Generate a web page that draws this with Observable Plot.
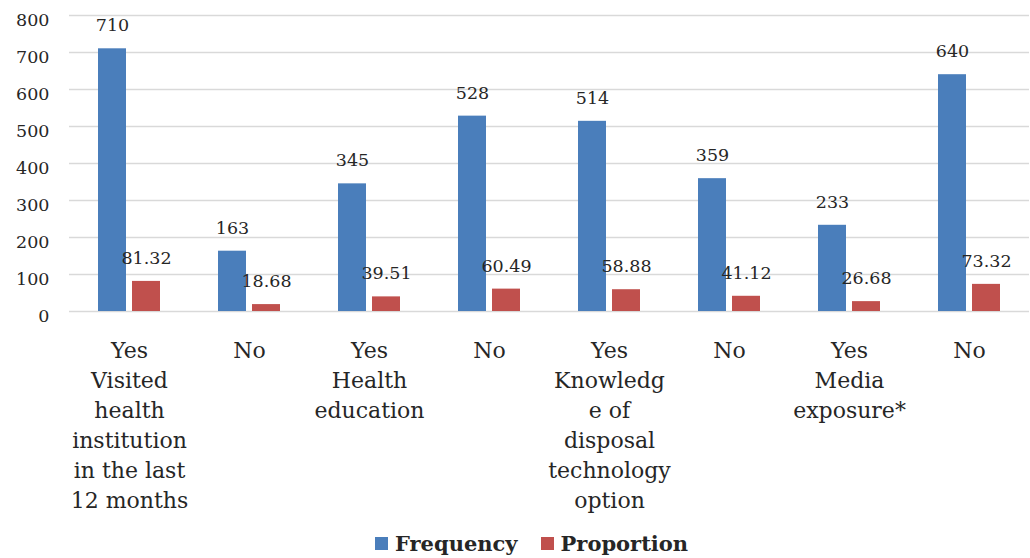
<!DOCTYPE html>
<html>
<head>
<meta charset="utf-8">
<script src="https://cdn.jsdelivr.net/npm/d3@7"></script>
<script src="https://cdn.jsdelivr.net/npm/@observablehq/plot@0.6"></script>
<style>
  html, body { margin: 0; padding: 0; background: #fff; }
  #chart svg { display: block; }
  #legend { display: flex; align-items: center; height: 30px; margin-left: 375px;
            font-family: "DejaVu Serif", serif; font-weight: bold; font-size: 21px; color: #262626; }
  .item { display: flex; align-items: center; margin-right: 23px; }
  .sw { width: 13px; height: 13px; margin-right: 7px; }
</style>
</head>
<body>
<div id="chart"></div>
<div id="legend"></div>
<script>
const categories = [
  "Yes\nVisited\nhealth\ninstitution\nin the last\n12 months",
  "No",
  "Yes\nHealth\neducation",
  "No",
  "Yes\nKnowledg\ne of\ndisposal\ntechnology\noption",
  "No",
  "Yes\nMedia\nexposure*",
  "No"
];
const frequency = [710, 163, 345, 528, 514, 359, 233, 640];
const proportion = [81.32, 18.68, 39.51, 60.49, 58.88, 41.12, 26.68, 73.32];
const seriesNames = ["Frequency", "Proportion"];
const seriesColors = ["#4A7EBB", "#C0504D"];
const yTicks = [0, 100, 200, 300, 400, 500, 600, 700, 800];

const ids = categories.map((c, i) => "c" + i);
const rows = [];
categories.forEach((c, i) => {
  rows.push({id: ids[i], series: "Frequency", value: frequency[i], label: String(frequency[i])});
  rows.push({id: ids[i], series: "Proportion", value: proportion[i], label: proportion[i].toFixed(2)});
});

const chart = Plot.plot({
  width: 1030,
  height: 528,
  marginLeft: 67,
  marginRight: 0,
  marginTop: 15,
  marginBottom: 217,
  style: {fontFamily: "DejaVu Serif, serif", color: "#262626", background: "white"},
  fx: {domain: ids, padding: 0, label: null},
  x: {domain: seriesNames, paddingInner: 0.188, paddingOuter: 0.839, axis: null},
  y: {domain: [0, 800]},
  color: {domain: seriesNames, range: seriesColors},
  marks: [
    Plot.ruleY(yTicks, {stroke: "#d9d9d9", strokeWidth: 1.5}),
    Plot.barY(rows, {fx: "id", x: "series", y: "value", fill: "series"}),
    Plot.text(rows, {fx: "id", x: "series", y: "value", text: "label", dy: -23, fontSize: 17.5, fill: "#262626"}),
    Plot.axisY(yTicks, {tickSize: 0, tickPadding: 20, dy: 5, fontSize: 17.5, label: null, fill: "#262626"}),
    Plot.axisFx({anchor: "bottom", tickSize: 0, tickPadding: 25, fontSize: 22, lineHeight: 1.364,
                 lineAnchor: "top", label: null, fill: "#262626",
                 tickFormat: id => categories[ids.indexOf(id)]})
  ]
});
document.getElementById("chart").appendChild(chart);

const legend = d3.select("#legend");
seriesNames.forEach((s, i) => {
  const it = legend.append("div").attr("class", "item");
  it.append("div").attr("class", "sw").style("background", seriesColors[i]);
  it.append("span").text(s);
});
</script>
</body>
</html>
